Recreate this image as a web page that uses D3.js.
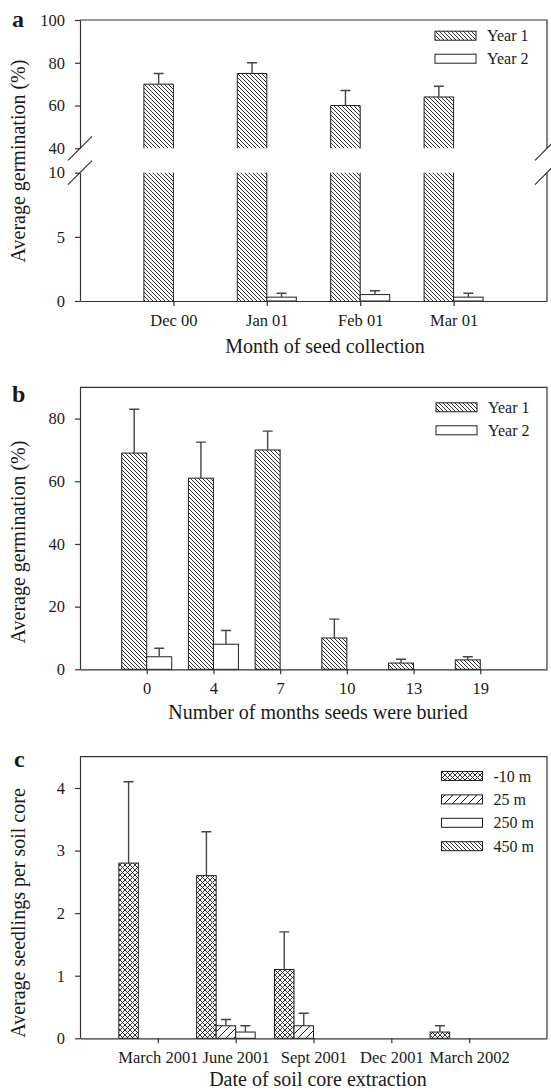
<!DOCTYPE html>
<html>
<head>
<meta charset="utf-8">
<script src="https://cdn.jsdelivr.net/npm/d3@7"></script>
<style>
  body { margin: 0; background: #fff; }
  svg text { font-family: 'Liberation Serif', 'Times New Roman', Times, 'DejaVu Serif', serif; fill: #1a1a1a; }
</style>
</head>
<body>
<svg id="fig" width="551" height="1092"></svg>
<script>
// panel a : germination by month of seed collection (broken y axis)
const monthsA = ['Dec 00', 'Jan 01', 'Feb 01', 'Mar 01'];
const year1A = [70, 75, 60, 64];
const year1ErrA = [5, 5, 7, 5];
const year2A = [0, 0.3, 0.5, 0.3];
const year2ErrA = [0, 0.3, 0.3, 0.3];
const yTicksLowA = [0, 5, 10];
const yTicksHighA = [40, 60, 80, 100];

// panel b : germination by months buried
const buriedB = ['0', '4', '7', '10', '13', '19'];
const year1B = [69, 61, 70, 10, 2, 3];
const year1ErrB = [14, 11.5, 6, 6, 1.2, 1];
const year2B = [4, 8, 0, 0, 0, 0];
const year2ErrB = [2.7, 4.4, 0, 0, 0, 0];
const yTicksB = [0, 20, 40, 60, 80];

// panel c : seedlings per soil core
const datesC = ['March 2001', 'June 2001', 'Sept 2001', 'Dec 2001', 'March 2002'];
const distancesC = ['-10 m', '25 m', '250 m', '450 m'];
const minus10C = [2.8, 2.6, 1.1, 0, 0.1];
const minus10ErrC = [1.3, 0.7, 0.6, 0, 0.1];
const m25C = [0, 0.2, 0.2, 0, 0];
const m25ErrC = [0, 0.1, 0.2, 0, 0];
const m250C = [0, 0.1, 0, 0, 0];
const m250ErrC = [0, 0.1, 0, 0, 0];
const m450C = [0, 0, 0, 0, 0];
const m450ErrC = [0, 0, 0, 0, 0];
const yTicksC = [0, 1, 2, 3, 4];

const ink = '#1e1e1e';
const axisInk = '#333';
const serif = "'Liberation Serif', 'Times New Roman', Times, 'DejaVu Serif', serif";
const plotLeft = 80;
const plotRight = 547;
const capHalf = 5;

const svg = d3.select('#fig');

function addPatterns () {
    const defs = svg.append('defs');

    const back = defs.append('pattern')
        .attr('id', 'hatchBack')
        .attr('patternUnits', 'userSpaceOnUse')
        .attr('width', 4).attr('height', 4);
    back.append('rect').attr('width', 4).attr('height', 4).attr('fill', '#fff');
    back.append('path')
        .attr('d', 'M-1,-1L5,5M-1,3L1,5M3,-1L5,1')
        .attr('stroke', ink).attr('stroke-width', 0.9);

    const fwd = defs.append('pattern')
        .attr('id', 'hatchFwd')
        .attr('patternUnits', 'userSpaceOnUse')
        .attr('width', 8).attr('height', 8);
    fwd.append('rect').attr('width', 8).attr('height', 8).attr('fill', '#fff');
    fwd.append('path')
        .attr('d', 'M-1,9L9,-1M-2,2L2,-2M6,10L10,6')
        .attr('stroke', ink).attr('stroke-width', 1);

    const cross = defs.append('pattern')
        .attr('id', 'crossHatch')
        .attr('patternUnits', 'userSpaceOnUse')
        .attr('width', 5).attr('height', 5);
    cross.append('rect').attr('width', 5).attr('height', 5).attr('fill', '#fff');
    cross.append('path')
        .attr('d', 'M-1,-1L6,6M-1,6L6,-1')
        .attr('stroke', ink).attr('stroke-width', 0.9);
}

function styleAxis (g, fontSize) {
    g.attr('font-family', null);
    g.select('.domain').attr('stroke', axisInk).attr('stroke-width', 1.2);
    g.selectAll('.tick line').attr('stroke', axisInk).attr('stroke-width', 1.2);
    g.selectAll('.tick text')
        .attr('fill', '#1a1a1a')
        .style('font-family', serif)
        .style('font-size', fontSize + 'px');
}

function drawXAxis (x, y0) {
    const g = svg.append('g')
        .attr('transform', 'translate(0,' + y0 + ')')
        .call(d3.axisBottom(x).tickSize(5).tickSizeOuter(0).tickPadding(8));
    styleAxis(g, 16.5);
}

function drawYAxis (y, ticks) {
    const g = svg.append('g')
        .attr('transform', 'translate(' + plotLeft + ',0)')
        .call(d3.axisLeft(y).tickValues(ticks).tickFormat(d3.format('d'))
            .tickSize(5).tickSizeOuter(0).tickPadding(10));
    styleAxis(g, 16.5);
}

function drawTitles (label, labelX, labelY, yTitle, yMid, xTitle, xMid, xBase) {
    svg.append('text')
        .attr('x', labelX).attr('y', labelY)
        .style('font-family', serif)
        .style('font-size', '24px').style('font-weight', 'bold')
        .text(label);
    svg.append('text')
        .attr('transform', 'translate(25,' + yMid + ') rotate(-90)')
        .attr('text-anchor', 'middle')
        .style('font-family', serif)
        .style('font-size', '20px')
        .text(yTitle);
    svg.append('text')
        .attr('x', xMid).attr('y', xBase)
        .attr('text-anchor', 'middle')
        .style('font-family', serif)
        .style('font-size', '20px')
        .text(xTitle);
}

function drawLegend (items, x0, yTop, gap) {
    const g = svg.append('g');
    g.selectAll('rect').data(items)
        .join('rect')
        .attr('x', x0).attr('y', (d, i) => yTop + i * gap - 4.5)
        .attr('width', 41).attr('height', 9)
        .attr('fill', d => d.fill)
        .attr('stroke', ink).attr('stroke-width', 1);
    g.selectAll('text').data(items)
        .join('text')
        .attr('x', x0 + 52).attr('y', (d, i) => yTop + i * gap + 5.5)
        .style('font-family', serif)
        .style('font-size', '16px')
        .text(d => d.name);
}

// ordinary bars with upward error bars, zero values are not drawn
function drawBars (cats, x, y, values, errs, offset, width, fill) {
    const rows = cats.map((c, i) => ({c: c, v: values[i], e: errs[i]}))
        .filter(d => d.v > 0);
    const g = svg.append('g');
    g.selectAll('rect').data(rows)
        .join('rect')
        .attr('x', d => x(d.c) + offset)
        .attr('width', width)
        .attr('y', d => y(d.v))
        .attr('height', d => y(0) - y(d.v))
        .attr('fill', fill)
        .attr('stroke', ink).attr('stroke-width', 1);
    g.selectAll('path').data(rows.filter(d => d.e > 0))
        .join('path')
        .attr('d', d => {
            const cx = x(d.c) + offset + width / 2;
            const top = y(d.v + d.e);
            return 'M' + cx + ',' + y(d.v) + 'V' + top + 'M' + (cx - capHalf) + ',' + top + 'H' + (cx + capHalf);
        })
        .attr('fill', 'none')
        .attr('stroke', '#444').attr('stroke-width', 1.4);
}

function panelA () {
    const bottom = 301;
    const yLow = d3.scaleLinear().domain([0, 10]).range([bottom, 172.7]);
    const yHigh = d3.scaleLinear().domain([40, 100]).range([148.3, 20]);
    const x = d3.scalePoint().domain(monthsA).range([plotLeft, plotRight]).padding(1);
    const w = 29.5;

    // box: top edge and broken right edge
    svg.append('path')
        .attr('d', 'M' + plotLeft + ',' + yHigh(100) + 'H' + plotRight + 'V' + yHigh(40) +
            'M' + plotRight + ',' + yLow(10) + 'V' + bottom)
        .attr('fill', 'none').attr('stroke', axisInk).attr('stroke-width', 1.2);

    // Year 1 bars are cut by the break
    const rows = monthsA.map((c, i) => ({c: c, v: year1A[i], e: year1ErrA[i]}));
    const g = svg.append('g');
    g.selectAll('rect.low').data(rows)
        .join('rect')
        .attr('class', 'low')
        .attr('x', d => x(d.c) - w).attr('width', w)
        .attr('y', yLow(10)).attr('height', yLow(0) - yLow(10))
        .attr('fill', 'url(#hatchBack)');
    g.selectAll('rect.high').data(rows)
        .join('rect')
        .attr('class', 'high')
        .attr('x', d => x(d.c) - w).attr('width', w)
        .attr('y', d => yHigh(d.v)).attr('height', d => yHigh(40) - yHigh(d.v))
        .attr('fill', 'url(#hatchBack)');
    g.selectAll('path.outline').data(rows)
        .join('path')
        .attr('class', 'outline')
        .attr('d', d => {
            const x0 = x(d.c) - w, x1 = x(d.c);
            return 'M' + x0 + ',' + yHigh(40) + 'V' + yHigh(d.v) + 'H' + x1 + 'V' + yHigh(40) +
                'M' + x0 + ',' + yLow(10) + 'V' + yLow(0) + 'M' + x1 + ',' + yLow(10) + 'V' + yLow(0);
        })
        .attr('fill', 'none').attr('stroke', ink).attr('stroke-width', 1);
    g.selectAll('path.err').data(rows)
        .join('path')
        .attr('class', 'err')
        .attr('d', d => {
            const cx = x(d.c) - w / 2;
            const top = yHigh(d.v + d.e);
            return 'M' + cx + ',' + yHigh(d.v) + 'V' + top + 'M' + (cx - capHalf) + ',' + top + 'H' + (cx + capHalf);
        })
        .attr('fill', 'none').attr('stroke', '#444').attr('stroke-width', 1.4);

    drawBars(monthsA, x, yLow, year2A, year2ErrA, 0, w, '#fff');

    drawYAxis(yLow, yTicksLowA);
    drawYAxis(yHigh, yTicksHighA);
    drawXAxis(x, bottom);

    // break marks on both sides
    const marks = [];
    [plotLeft, plotRight].forEach(px => {
        [yHigh(40), yLow(10)].forEach(py => marks.push([px, py]));
    });
    svg.append('g').selectAll('path').data(marks)
        .join('path')
        .attr('d', d => 'M' + (d[0] - 12) + ',' + (d[1] + 12) + 'L' + (d[0] + 12) + ',' + (d[1] - 12))
        .attr('stroke', axisInk).attr('stroke-width', 1.2);

    drawLegend([{name: 'Year 1', fill: 'url(#hatchBack)'}, {name: 'Year 2', fill: '#fff'}], 435, 35.7, 23);
    drawTitles('a', 12, 27, 'Average germination (%)', 161, 'Month of seed collection', 325, 353);
}

function panelB () {
    const top = 387.3, bottom = 669.3;
    const y = d3.scaleLinear().domain([0, 90]).range([bottom, top]);
    const x = d3.scalePoint().domain(buriedB).range([plotLeft, plotRight]).padding(1);
    const w = 25;

    svg.append('path')
        .attr('d', 'M' + plotLeft + ',' + top + 'H' + plotRight + 'V' + bottom)
        .attr('fill', 'none').attr('stroke', axisInk).attr('stroke-width', 1.2);

    drawBars(buriedB, x, y, year1B, year1ErrB, -w, w, 'url(#hatchBack)');
    drawBars(buriedB, x, y, year2B, year2ErrB, 0, w, '#fff');

    drawYAxis(y, yTicksB);
    drawXAxis(x, bottom);

    drawLegend([{name: 'Year 1', fill: 'url(#hatchBack)'}, {name: 'Year 2', fill: '#fff'}], 436, 407.3, 23);
    drawTitles('b', 12, 402, 'Average germination (%)', 542, 'Number of months seeds were buried', 318, 719);
}

function panelC () {
    const top = 756.7, bottom = 1038.3;
    const y = d3.scaleLinear().domain([0, 4.5]).range([bottom, top]);
    const x = d3.scalePoint().domain(datesC).range([plotLeft, plotRight]).padding(1);
    const w = 19.5;

    svg.append('path')
        .attr('d', 'M' + plotLeft + ',' + top + 'H' + plotRight + 'V' + bottom)
        .attr('fill', 'none').attr('stroke', axisInk).attr('stroke-width', 1.2);

    const series = [
        {name: distancesC[0], v: minus10C, e: minus10ErrC, fill: 'url(#crossHatch)'},
        {name: distancesC[1], v: m25C, e: m25ErrC, fill: 'url(#hatchFwd)'},
        {name: distancesC[2], v: m250C, e: m250ErrC, fill: '#fff'},
        {name: distancesC[3], v: m450C, e: m450ErrC, fill: 'url(#hatchBack)'}
    ];
    series.forEach((s, i) => {
        drawBars(datesC, x, y, s.v, s.e, (i - 2) * w, w, s.fill);
    });

    drawYAxis(y, yTicksC);
    drawXAxis(x, bottom);

    drawLegend(series, 441.5, 776, 23.4);
    drawTitles('c', 14, 767, 'Average seedlings per soil core', 913, 'Date of soil core extraction', 318, 1086);
}

addPatterns();
panelA();
panelB();
panelC();
</script>
</body>
</html>
